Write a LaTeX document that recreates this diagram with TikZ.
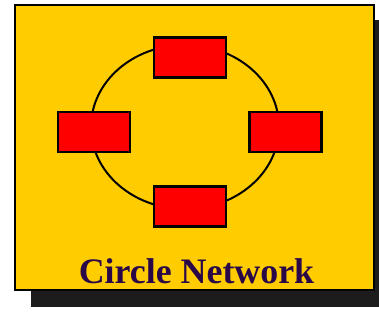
\documentclass[tikz,border=0pt]{standalone}
\usepackage{fontspec}
\setmainfont{Liberation Serif}
\definecolor{bgyellow}{HTML}{FFCC00}
\definecolor{boxred}{HTML}{FF0000}
\definecolor{shadowgray}{HTML}{1C1C1C}
\definecolor{titlepurple}{HTML}{2A0848}
\begin{document}
\begin{tikzpicture}[x=1bp,y=-1bp,
  netbox/.style={draw=black,line width=2.4bp,fill=boxred,minimum width=72bp,minimum height=40bp,inner sep=0pt,outer sep=0pt},
  ring/.style={draw=black,line width=2bp}]
\useasboundingbox (0,0) rectangle (379,327);
\fill[shadowgray] (31,20) rectangle (379,307);
\draw[fill=bgyellow,line width=2.2bp] (15,5) rectangle (374,290);
\draw[ring] (185,127) ellipse [x radius=94bp, y radius=82bp];
\node[netbox] (top) at (190,57.5) {};
\node[netbox] (left) at (94,132) {};
\node[netbox] (right) at (285.5,132) {};
\node[netbox] (bottom) at (190,206.5) {};
\node[text=titlepurple,font=\bfseries\fontsize{36}{40}\selectfont,anchor=base,inner sep=0pt] (title) at (196.5,283) {Circle Network};
\end{tikzpicture}
\end{document}
